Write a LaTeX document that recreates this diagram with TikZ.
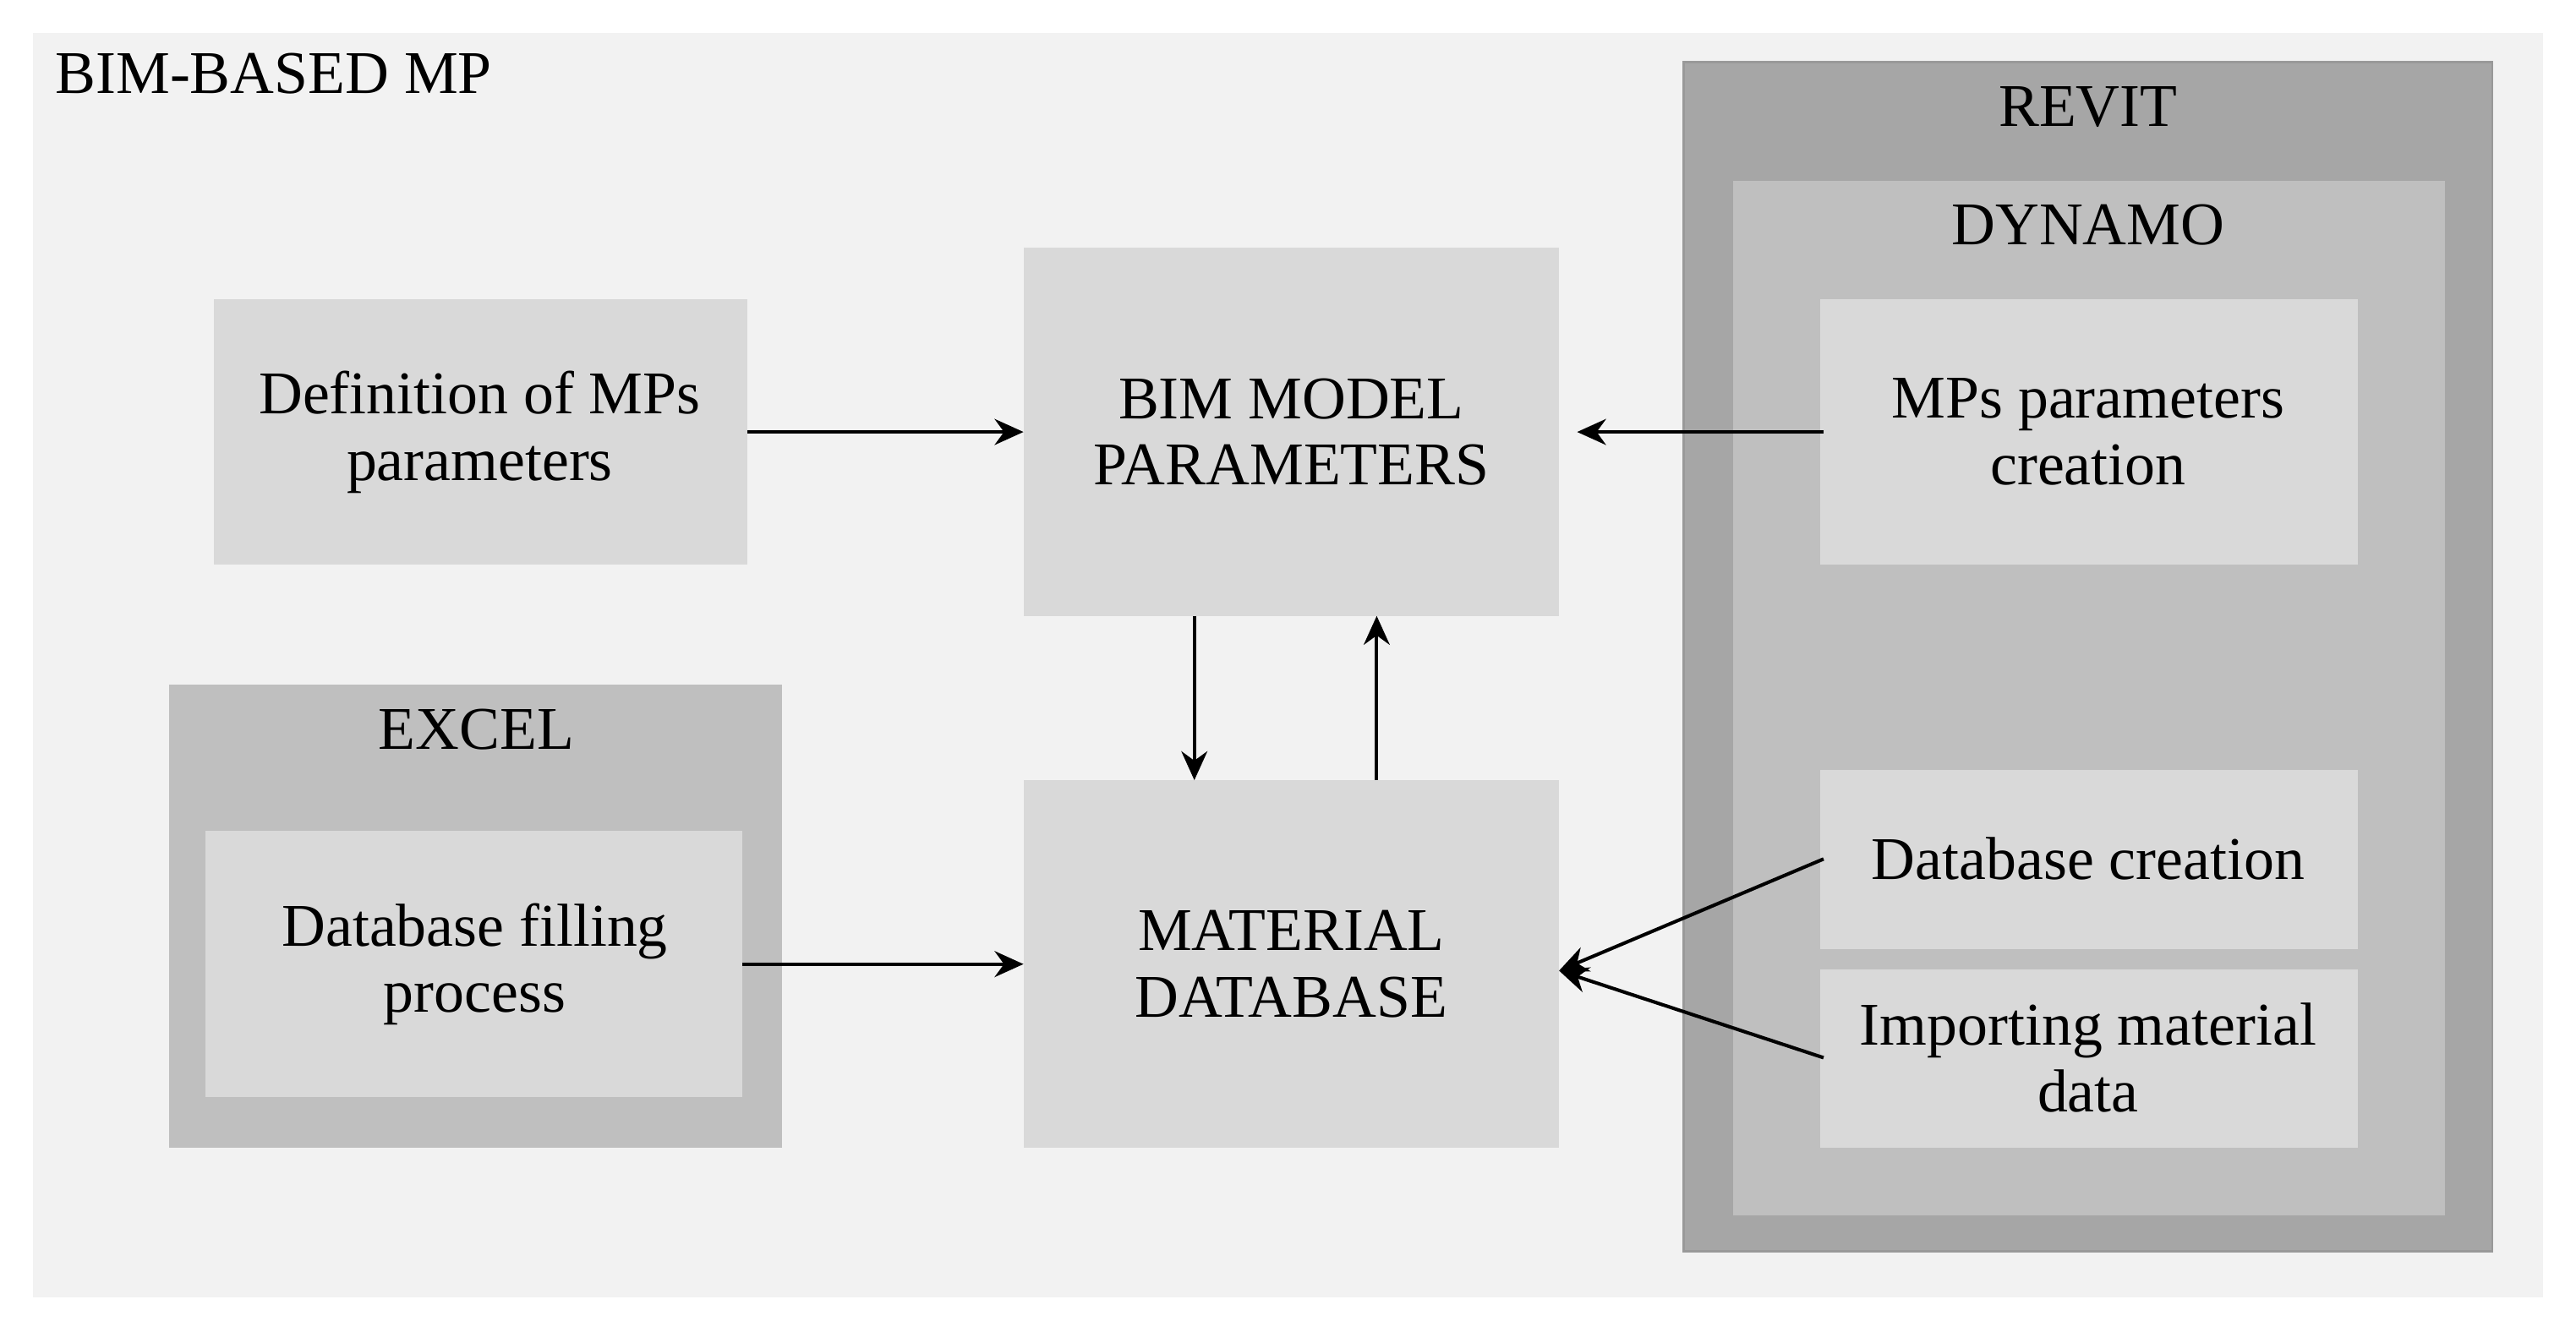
\documentclass[tikz,border=0pt]{standalone}
\usepackage{fontspec}
\setmainfont{Liberation Serif}
\usetikzlibrary{arrows.meta}
\definecolor{bgc}{HTML}{F2F2F2}
\definecolor{lt}{HTML}{D9D9D9}
\definecolor{md}{HTML}{BFBFBF}
\definecolor{dk}{HTML}{A6A6A6}
\begin{document}
\begin{tikzpicture}[x=0.01cm,y=-0.01cm,
  lbl/.style={font=\fontsize{10.5pt}{11.5pt}\selectfont,anchor=center,align=center,inner sep=0pt},
  arr/.style={-{Stealth[length=5pt,width=4.5pt]},line width=0.6pt}]
\useasboundingbox (0,0) rectangle (1568,811);
\fill[white] (0,0) rectangle (1568,811);
\fill[bgc] (20,20) rectangle (1548,790);
\node[lbl,anchor=west] (title) at (33,45) {BIM-BASED MP};
\filldraw[fill=dk,draw=gray!80] (1025,38) rectangle (1517,762);
\node[lbl] (revit) at (1271,65) {REVIT};
\fill[md] (1055,110) rectangle (1488,740);
\node[lbl] (dynamo) at (1271,137) {DYNAMO};
\fill[md] (103,417) rectangle (476,699);
\node[lbl] (excel) at (290,444) {EXCEL};
\fill[lt] (1108,182) rectangle (1435,344);
\node[lbl] (mps) at (1271,263) {MPs parameters\\creation};
\fill[lt] (1108,469) rectangle (1435,578);
\node[lbl] (dbc) at (1271,523) {Database creation};
\fill[lt] (1108,590) rectangle (1435,699);
\node[lbl] (imp) at (1271,644) {Importing material\\data};
\fill[lt] (130,182) rectangle (455,344);
\node[lbl] (def) at (292,263) {Definition of MPs\\parameters};
\fill[lt] (623,151) rectangle (949,375);
\node[lbl] (bim) at (786,263) {BIM MODEL\\PARAMETERS};
\fill[lt] (623,475) rectangle (949,699);
\node[lbl] (mat) at (786,587) {MATERIAL\\DATABASE};
\fill[lt] (125,506) rectangle (452,668);
\node[lbl] (fill) at (289,587) {Database filling\\process};
\coordinate (a1) at (455,263); \coordinate (b1) at (623,263);
\draw[arr] (a1) -- (b1);
\coordinate (a2) at (1110,263); \coordinate (b2) at (960,263);
\draw[arr] (a2) -- (b2);
\coordinate (a3) at (727,375); \coordinate (b3) at (727,475);
\draw[arr] (a3) -- (b3);
\coordinate (a4) at (838,475); \coordinate (b4) at (838,375);
\draw[arr] (a4) -- (b4);
\coordinate (a5) at (452,587); \coordinate (b5) at (623,587);
\draw[arr] (a5) -- (b5);
\coordinate (a6) at (1110,523); \coordinate (c) at (949,591);
\draw[arr] (a6) -- (c);
\coordinate (a7) at (1110,644);
\draw[arr] (a7) -- (c);
\end{tikzpicture}
\end{document}
